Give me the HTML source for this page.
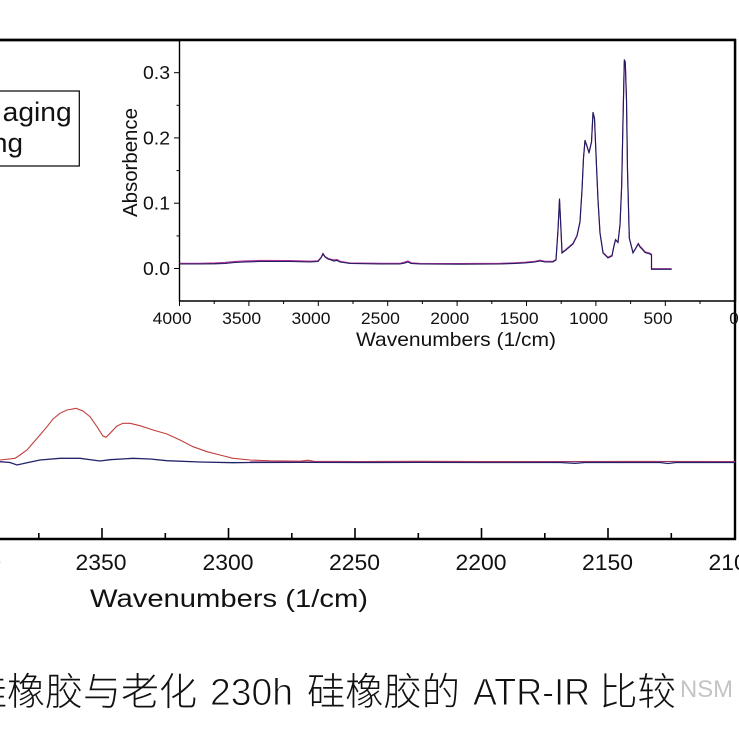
<!DOCTYPE html>
<html>
<head>
<meta charset="utf-8">
<style>
  html,body{margin:0;padding:0;background:#fff;}
  svg{display:block;}
  text{font-family:"Liberation Sans", Arial, sans-serif; fill:#111;}
  .cj{font-family:"Liberation Sans","Noto Sans CJK SC","WenQuanYi Zen Hei",sans-serif; font-weight:300;}
  .lt{stroke:#fff; stroke-width:0.9px;}
</style>
</head>
<body>
<svg width="739" height="739" viewBox="0 0 739 739" xmlns="http://www.w3.org/2000/svg">
  <rect width="739" height="739" fill="#fff"/>

  <!-- Main frame -->
  <line x1="0" y1="40" x2="736" y2="40" stroke="#000" stroke-width="2.4"/>
  <line x1="735" y1="39" x2="735" y2="540" stroke="#000" stroke-width="2.4"/>
  <line x1="0" y1="539" x2="736" y2="539" stroke="#000" stroke-width="2.4"/>

  <!-- Main x ticks (inward) -->
  <g stroke="#000" stroke-width="1.6">
    <line x1="102" y1="539" x2="102" y2="528"/>
    <line x1="228.5" y1="539" x2="228.5" y2="528"/>
    <line x1="355" y1="539" x2="355" y2="528"/>
    <line x1="481.5" y1="539" x2="481.5" y2="528"/>
    <line x1="608" y1="539" x2="608" y2="528"/>
    <line x1="38.8" y1="539" x2="38.8" y2="533"/>
    <line x1="165.3" y1="539" x2="165.3" y2="533"/>
    <line x1="291.8" y1="539" x2="291.8" y2="533"/>
    <line x1="418.3" y1="539" x2="418.3" y2="533"/>
    <line x1="544.8" y1="539" x2="544.8" y2="533"/>
    <line x1="671.3" y1="539" x2="671.3" y2="533"/>
  </g>

  <!-- Main x tick labels -->
  <g font-size="22" text-anchor="middle">
    <text x="-24.5" y="570" textLength="51" lengthAdjust="spacingAndGlyphs">2400</text>
    <text x="101" y="570" textLength="51" lengthAdjust="spacingAndGlyphs">2350</text>
    <text x="228" y="570" textLength="51" lengthAdjust="spacingAndGlyphs">2300</text>
    <text x="354.5" y="570" textLength="51" lengthAdjust="spacingAndGlyphs">2250</text>
    <text x="481" y="570" textLength="51" lengthAdjust="spacingAndGlyphs">2200</text>
    <text x="607.5" y="570" textLength="51" lengthAdjust="spacingAndGlyphs">2150</text>
    <text x="734" y="570" textLength="51" lengthAdjust="spacingAndGlyphs">2100</text>
  </g>
  <text x="90" y="607" font-size="25" textLength="278" lengthAdjust="spacingAndGlyphs">Wavenumbers (1/cm)</text>

  <!-- Main series -->
  <path d="M0,461.7 L10,462.5 L17,465 L27,462.7 L40,460 L60,458.3 L80,458.3 L100,461 L110,459.7 L133,458.3 L150,459 L167,460.7 L200,462 L233,462.7 L250,462.5 L300,462.3 L360,462.5 L420,462.4 L480,462.5 L560,462.5 L575,463.3 L585,462.5 L660,462.5 L668,463.5 L676,462.5 L735,462.5"
        fill="none" stroke="#22236a" stroke-width="1.3"/>
  <path d="M0,460 L15,458.3 L20,455 L27,450 L33,443 L40,435 L47,426.7 L53,419 L60,413.3 L67,410 L76,408.3 L83,411 L90,416.7 L97,426.7 L103,436 L106,437.3 L110,433.3 L117,426 L123,423.3 L130,423.3 L140,425.7 L153,430 L167,434 L180,440 L193,446.7 L207,451.7 L220,455 L233,458.3 L250,460 L270,460.8 L300,461.2 L308,460.2 L314,461.3 L360,461.5 L420,461.3 L480,461.6 L560,461.5 L640,461.4 L735,461.5"
        fill="none" stroke="#c0403c" stroke-width="1.1"/>
  <path d="M250,461.6 L735,461.6" fill="none" stroke="#8a2c7e" stroke-width="0.9" opacity="0.7"/>

  <!-- Legend box -->
  <rect x="-20" y="91" width="99.3" height="75" fill="#fff" stroke="#000" stroke-width="1.2"/>
  <text x="2.7" y="121" font-size="27" textLength="69" lengthAdjust="spacingAndGlyphs">aging</text>
  <text x="-8" y="152" font-size="27" textLength="31" lengthAdjust="spacingAndGlyphs">ng</text>

  <!-- Inset -->
  <rect x="179.5" y="41" width="555" height="260" fill="#fff"/>
  <line x1="179.5" y1="40" x2="179.5" y2="301.5" stroke="#000" stroke-width="1.4"/>
  <line x1="179" y1="301" x2="735" y2="301" stroke="#000" stroke-width="1.4"/>
  <line x1="0" y1="40" x2="736" y2="40" stroke="#000" stroke-width="2.4"/>
  <line x1="735" y1="39" x2="735" y2="302" stroke="#000" stroke-width="2.4"/>

  <!-- Inset y ticks (outward, left) -->
  <g stroke="#000" stroke-width="1">
    <line x1="174" y1="268.5" x2="179.5" y2="268.5"/>
    <line x1="174" y1="203.2" x2="179.5" y2="203.2"/>
    <line x1="174" y1="137.9" x2="179.5" y2="137.9"/>
    <line x1="174" y1="72.7" x2="179.5" y2="72.7"/>
    <line x1="176.5" y1="235.9" x2="179.5" y2="235.9"/>
    <line x1="176.5" y1="170.6" x2="179.5" y2="170.6"/>
    <line x1="176.5" y1="105.3" x2="179.5" y2="105.3"/>
  </g>
  <g font-size="18.5" text-anchor="end">
    <text x="170" y="275" textLength="27" lengthAdjust="spacingAndGlyphs">0.0</text>
    <text x="170" y="209.7" textLength="27" lengthAdjust="spacingAndGlyphs">0.1</text>
    <text x="170" y="144.4" textLength="27" lengthAdjust="spacingAndGlyphs">0.2</text>
    <text x="170" y="79.2" textLength="27" lengthAdjust="spacingAndGlyphs">0.3</text>
  </g>
  <text transform="translate(137,217) rotate(-90)" font-size="20" textLength="109" lengthAdjust="spacingAndGlyphs">Absorbence</text>

  <!-- Inset x ticks (outward, down) -->
  <g stroke="#000" stroke-width="1">
    <line x1="179.5" y1="301" x2="179.5" y2="306"/>
    <line x1="248.9" y1="301" x2="248.9" y2="306"/>
    <line x1="318.3" y1="301" x2="318.3" y2="306"/>
    <line x1="387.7" y1="301" x2="387.7" y2="306"/>
    <line x1="457.1" y1="301" x2="457.1" y2="306"/>
    <line x1="526.5" y1="301" x2="526.5" y2="306"/>
    <line x1="595.9" y1="301" x2="595.9" y2="306"/>
    <line x1="665.3" y1="301" x2="665.3" y2="306"/>
    <line x1="214.2" y1="301" x2="214.2" y2="304"/>
    <line x1="283.6" y1="301" x2="283.6" y2="304"/>
    <line x1="353" y1="301" x2="353" y2="304"/>
    <line x1="422.4" y1="301" x2="422.4" y2="304"/>
    <line x1="491.8" y1="301" x2="491.8" y2="304"/>
    <line x1="561.2" y1="301" x2="561.2" y2="304"/>
    <line x1="630.6" y1="301" x2="630.6" y2="304"/>
    <line x1="700" y1="301" x2="700" y2="304"/>
  </g>
  <g font-size="17" text-anchor="middle">
    <text x="172.2" y="324" textLength="39" lengthAdjust="spacingAndGlyphs">4000</text>
    <text x="241.6" y="324" textLength="39" lengthAdjust="spacingAndGlyphs">3500</text>
    <text x="311" y="324" textLength="39" lengthAdjust="spacingAndGlyphs">3000</text>
    <text x="380.4" y="324" textLength="39" lengthAdjust="spacingAndGlyphs">2500</text>
    <text x="449.8" y="324" textLength="39" lengthAdjust="spacingAndGlyphs">2000</text>
    <text x="519.2" y="324" textLength="39" lengthAdjust="spacingAndGlyphs">1500</text>
    <text x="588.6" y="324" textLength="39" lengthAdjust="spacingAndGlyphs">1000</text>
    <text x="658" y="324" textLength="29" lengthAdjust="spacingAndGlyphs">500</text>
    <text x="734" y="324">0</text>
  </g>
  <text x="356" y="346" font-size="19.5" textLength="200" lengthAdjust="spacingAndGlyphs">Wavenumbers (1/cm)</text>

  <!-- Inset series -->
  <path d="M179.5,263.4 L200,263.4 L215,263 L225,262.5 L235,261.5 L245,261 L260,260.5 L290,260.6 L310,261.2 L318,260.8 L321,257.5 L323,253.5 L325,256.5 L328,258.3 L331,259.3 L334,260 L337,259.5 L340,261.3 L350,263 L380,263.4 L400,263.4 L405,262 L408,261 L411,262.8 L420,263.5 L460,263.6 L500,263.4 L515,262.8 L525,262.2 L535,261.3 L540,260.2 L545,261.3 L553,261.3 L556,259.5 L558,230 L559.5,200 L561,230 L562,252.5 L566,249.3 L573,243.3 L577,235.5 L580,221.5 L582,190 L583.5,158 L585,141 L587,146.5 L589,152.5 L591.5,142 L593,114 L594.5,119 L596.5,166 L598,200 L600,233 L603,252.5 L608,257.3 L612,255.3 L614,245.5 L615.5,239.5 L618,242 L620,225 L621.7,185 L623,121 L624.3,62 L625.3,64 L626.5,100 L627.5,170 L629.3,238 L633,252.5 L636,247.5 L638.3,243.3 L640,246.3 L642,248.3 L645,251.8 L650,253.3 L651.5,254.3 L651.5,268.7 L671.7,268.7"
        fill="none" stroke="#b0309a" stroke-width="1.2"/>
  <path d="M179.5,264 L200,264 L215,263.8 L225,263.5 L235,262.5 L245,262 L260,261.5 L290,261.5 L310,262 L318,261.5 L321,258 L323,254 L325,257 L328,259 L331,260 L334,261 L337,260.5 L340,262 L350,263.5 L380,264 L400,264 L405,263 L408,262 L411,263.5 L420,264 L460,264.2 L500,264 L515,263.5 L525,263 L535,262 L540,261 L545,262 L553,262 L556,260 L558,230 L559.5,198.5 L561,230 L562,253 L566,250 L573,244 L577,236 L580,222 L582,190 L583.5,158 L585,140 L587,146 L589,153 L591.5,142 L593,112 L594.5,118 L596.5,166 L598,200 L600,233 L603,253 L608,258 L612,256 L614,246 L615.5,240 L618,242.5 L620,225 L621.7,185 L623,120 L624.3,59.5 L625.3,62 L626.5,100 L627.5,170 L629.3,238 L633,253 L636,248 L638.3,244 L640,247 L642,249 L645,252.5 L650,254 L651.5,255 L651.5,269.3 L671.7,269.3"
        fill="none" stroke="#1d1c5e" stroke-width="1.1"/>

  <!-- Caption -->
  <g font-size="38">
    <text class="cj" x="-31" y="705" textLength="228" lengthAdjust="spacingAndGlyphs">硅橡胶与老化</text>
    <text class="cj lt" x="210" y="705" textLength="83" lengthAdjust="spacingAndGlyphs">230h</text>
    <text class="cj" x="307" y="705" textLength="153" lengthAdjust="spacingAndGlyphs">硅橡胶的</text>
    <text class="cj lt" x="473" y="705" textLength="117" lengthAdjust="spacingAndGlyphs">ATR-IR</text>
    <text class="cj" x="599" y="705" textLength="77" lengthAdjust="spacingAndGlyphs">比较</text>
  </g>
  <text x="680" y="697" font-size="24" style="fill:#c4c4c4" textLength="53" lengthAdjust="spacingAndGlyphs">NSM</text>
</svg>
</body>
</html>
